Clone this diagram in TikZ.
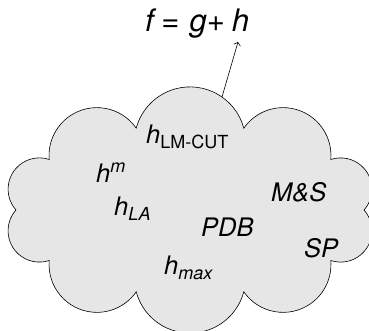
\documentclass[tikz,border=0pt]{standalone}
\usepackage{fontspec}
\setmainfont{TeX Gyre Heros}
\usetikzlibrary{arrows.meta}
\definecolor{cloudfill}{RGB}{230,230,230}
% sub- and superscripts set in a smaller size
\newcommand\lowtext[1]{\raisebox{-4.5pt}{\fontsize{18}{18}\selectfont #1}}
\newcommand\hightext[1]{\raisebox{10.5pt}{\fontsize{18}{18}\selectfont #1}}
\begin{document}
\begin{tikzpicture}[x=1pt,y=1pt,
  cloudline/.style={draw=black, line width=0.6pt, fill=cloudfill},
  lbl/.style={inner sep=0pt, anchor=base west, font=\fontsize{25.5}{25.5}\selectfont\itshape},
  formula/.style={inner sep=0pt, anchor=base west, font=\fontsize{31}{31}\selectfont},
  pointer/.style={line width=0.6pt, -{Straight Barb[length=3pt,width=7pt]}}]
\useasboundingbox (0,0) rectangle (369,331);
\begin{scope}
  \clip (0,0) rectangle (369,331);
  % ten puffs, each a 150 degree arc between neighbouring cusps
  \path[cloudline] (364,121)
    arc[start angle=-41.68, delta angle=150, radius=31.29pt]
    arc[start angle=-4.79,  delta angle=150, radius=47.86pt]
    arc[start angle=15,     delta angle=150, radius=55.70pt]
    arc[start angle=34.79,  delta angle=150, radius=47.86pt]
    arc[start angle=71.68,  delta angle=150, radius=31.29pt]
    arc[start angle=138.32, delta angle=150, radius=31.29pt]
    arc[start angle=175.21, delta angle=150, radius=47.86pt]
    arc[start angle=195,    delta angle=150, radius=55.70pt]
    arc[start angle=214.79, delta angle=150, radius=47.86pt]
    arc[start angle=251.68, delta angle=150, radius=31.29pt]
    -- cycle;
\end{scope}

\node[formula] (fgh) at (145,299.5) {\textit{f}\hspace{5pt}=\hspace{10pt}\textit{g}+\hspace{7pt}\textit{h}};

\node[lbl] (lmcut) at (146,187) {h\lowtext{\upshape LM-CUT}};
\node[lbl] (hm)    at (96,148)  {h\hightext{m}};
\node[lbl] (hla)   at (114,115) {h\lowtext{LA}};
\node[lbl] (ms)    at (271,129) {M\&S};
\node[lbl] (pdb)   at (201,94)  {PDB};
\node[lbl] (sp)    at (304,73)  {SP};
\node[lbl] (hmax)  at (164,56)  {h\lowtext{max}};

\coordinate (stem) at (222,234);
\coordinate (head) at (238,289);
\draw[pointer] (stem) -- (head);
\end{tikzpicture}
\end{document}
